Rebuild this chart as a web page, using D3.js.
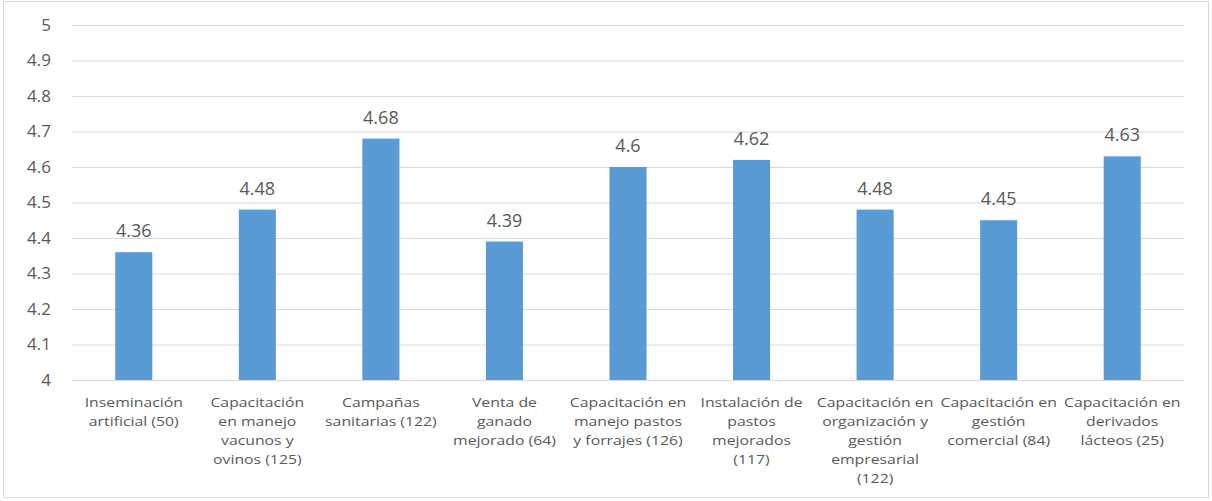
<!DOCTYPE html>
<html>
<head>
<meta charset="utf-8">
<script src="https://cdn.jsdelivr.net/npm/d3@7"></script>
<style>
  body { margin: 0; background: #fff; }
  text { font-family: "Open Sans", sans-serif; fill: #595959; }
</style>
</head>
<body>
<div id="chart"></div>
<script>
// data
var categories = [
  ["Inseminación", "artificial (50)"],
  ["Capacitación", "en manejo", "vacunos y", "ovinos (125)"],
  ["Campañas", "sanitarias (122)"],
  ["Venta de", "ganado", "mejorado (64)"],
  ["Capacitación en", "manejo pastos", "y forrajes (126)"],
  ["Instalación de", "pastos", "mejorados", "(117)"],
  ["Capacitación en", "organización y", "gestión", "empresarial", "(122)"],
  ["Capacitación en", "gestión", "comercial (84)"],
  ["Capacitación en", "derivados", "lácteos (25)"]
];
var values = [4.36, 4.48, 4.68, 4.39, 4.6, 4.62, 4.48, 4.45, 4.63];
var yTicks = [4, 4.1, 4.2, 4.3, 4.4, 4.5, 4.6, 4.7, 4.8, 4.9, 5];

var W = 1212, H = 501;
var margin = {top: 25, right: 28, bottom: 121, left: 72},
    width = W - margin.left - margin.right,
    height = H - margin.top - margin.bottom;

var svg = d3.select("#chart").append("svg")
    .attr("width", W)
    .attr("height", H);

// chart border
svg.append("rect")
    .attr("x", 3.5).attr("y", 1.5)
    .attr("width", W - 7).attr("height", H - 5)
    .attr("fill", "none")
    .attr("stroke", "#d9d9d9");

var g = svg.append("g")
    .attr("transform", "translate(" + margin.left + "," + margin.top + ")");

var idx = categories.map(function(d, i) { return i; });
var x = d3.scaleBand()
    .domain(idx)
    .range([0, width])
    .paddingInner(0.7)
    .paddingOuter(0.35);

var y = d3.scaleLinear()
    .domain([4, 5])
    .range([height, 0]);

// grid + y axis
var yAxis = g.append("g")
    .call(d3.axisLeft(y).tickValues(yTicks).tickSize(-width).tickFormat(d3.format("~g")));
yAxis.select(".domain").remove();
yAxis.selectAll(".tick line").attr("stroke", "#d9d9d9");
yAxis.selectAll(".tick text")
    .attr("x", -21)
    .style("font-size", "17px")
    .style("font-family", "'Open Sans', sans-serif")
    .attr("fill", "#595959");

// bars
g.selectAll(".bar")
    .data(values)
    .enter().append("rect")
    .attr("class", "bar")
    .attr("x", function(d, i) { return x(i); })
    .attr("width", x.bandwidth())
    .attr("y", function(d) { return y(d); })
    .attr("height", function(d) { return height - y(d); })
    .attr("fill", "#5b9bd5");

// value labels
g.selectAll(".val")
    .data(values)
    .enter().append("text")
    .attr("class", "val")
    .attr("x", function(d, i) { return x(i) + x.bandwidth() / 2; })
    .attr("y", function(d) { return y(d) - 15; })
    .attr("text-anchor", "middle")
    .style("font-size", "18px")
    .text(function(d) { return d; });

// category labels (source text is a bit stretched horizontally)
var cat = g.selectAll(".cat")
    .data(categories)
    .enter().append("text")
    .attr("class", "cat")
    .attr("text-anchor", "middle")
    .attr("transform", function(d, i) {
      return "translate(" + (x(i) + x.bandwidth() / 2) + "," + (height + 27) + ") scale(1.17,1)";
    })
    .style("font-size", "13.5px");
cat.selectAll("tspan")
    .data(function(d) { return d; })
    .enter().append("tspan")
    .attr("x", 0)
    .attr("dy", function(d, i) { return i === 0 ? 0 : 19; })
    .text(function(d) { return d; });
</script>
</body>
</html>
